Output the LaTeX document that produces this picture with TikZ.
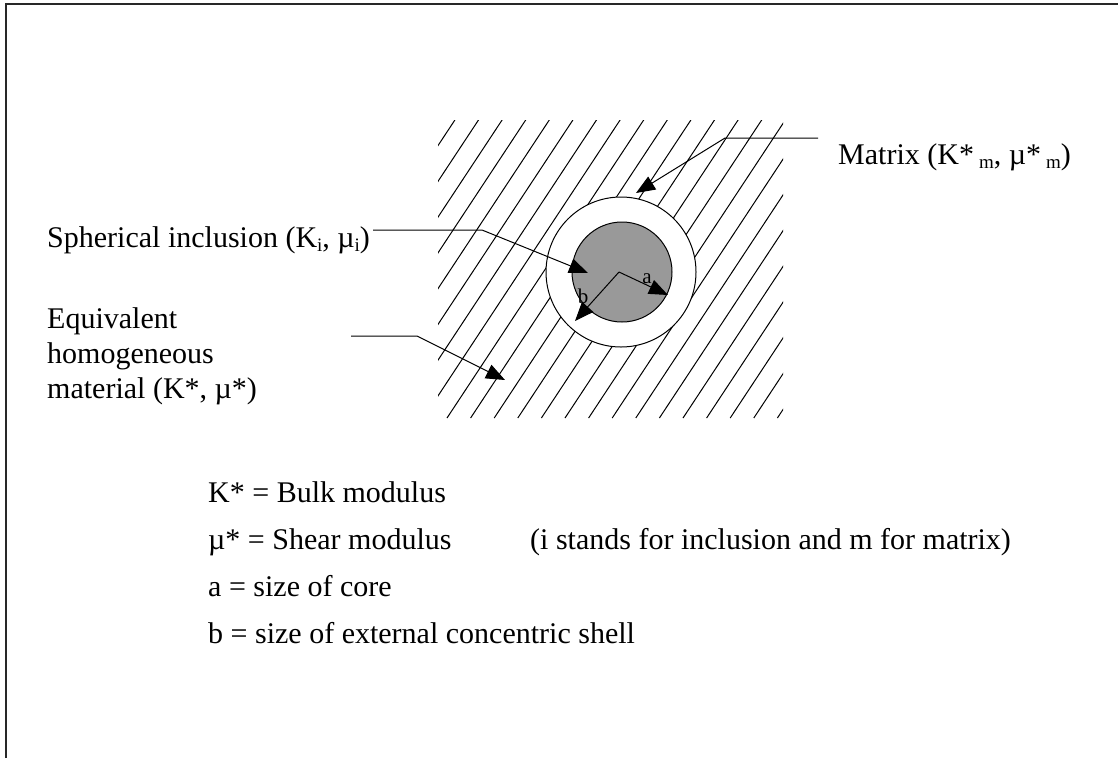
\documentclass[tikz,border=0pt]{standalone}
\usepackage{fontspec}
\setmainfont{Liberation Serif}
\usetikzlibrary{arrows.meta}
\definecolor{coregray}{RGB}{153,153,153}
\definecolor{framegray}{RGB}{40,40,40}
\tikzset{
  lbl/.style={anchor=base west, inner sep=0pt, font=\fontsize{30}{35}\selectfont},
  small/.style={anchor=base, inner sep=0pt, font=\fontsize{21}{21}\selectfont},
  arr/.style={line width=1pt, -{Triangle[length=19pt,width=15pt]}},
  conn/.style={line width=1pt},
  hatchline/.style={line width=1pt},
  ring/.style={line width=1pt, draw=black},
}
\newcommand\lowsub[1]{\raisebox{-0.14em}{\fontsize{19}{19}\selectfont #1}}
\begin{document}
\begin{tikzpicture}[x=1pt,y=-1pt]
\useasboundingbox (0,0) rectangle (1118,758);
% frame (top and left edges visible)
\draw[framegray, line width=1.3pt] (6,758) -- (6,4) -- (1118,4);

% hatched region
\begin{scope}
  \clip (438,120) rectangle (783,418);
  \foreach \k in {-10,...,16} {
    \draw[hatchline] ({447+23.6*\k},418) -- ({447+23.6*\k+0.66*320},98);
  }
\end{scope}

% shell and core
\node[ring, circle, fill=white, minimum size=150pt, inner sep=0pt] (shell) at (621,272) {};
\node[ring, circle, fill=coregray, minimum size=100pt, inner sep=0pt] (core) at (622,272) {};

% radii
\coordinate (ctr) at (619,272);
\coordinate (aT) at (668,295);
\coordinate (bT) at (575,321);
\draw[arr] (ctr) -- (aT);
\draw[arr] (ctr) -- (bT);
\node[small] (alab) at (647,283) {a};
\node[small] (blab) at (583,303) {b};

% labels
\node[lbl] (matrix) at (838,164) {Matrix (K*\,\lowsub{m}, \textmu*\,\lowsub{m})};
\node[lbl] (sph) at (47,247) {Spherical inclusion (K\lowsub{i}, \textmu\lowsub{i})};
\node[lbl] (eq1) at (47,328) {Equivalent};
\node[lbl] (eq2) at (47,363) {homogeneous};
\node[lbl] (eq3) at (47,398) {material (K*, \textmu*)};

% connectors
\coordinate (mA) at (818,138);
\coordinate (mB) at (725,138);
\coordinate (mT) at (636,193);
\draw[arr] (mA) -- (mB) -- (mT);

\coordinate (sA) at (373,230);
\coordinate (sB) at (482,230);
\coordinate (sT) at (588,273);
\draw[arr] (sA) -- (sB) -- (sT);

\coordinate (hA) at (351,336);
\coordinate (hB) at (417,336);
\coordinate (hT) at (505,380);
\draw[arr] (hA) -- (hB) -- (hT);

% legend
\node[lbl] (k) at (208,502) {K* = Bulk modulus};
\node[lbl] (mu) at (208,549) {\textmu* = Shear modulus};
\node[lbl] (note) at (530,549) {(i stands for inclusion and m for matrix)};
\node[lbl] (acore) at (208,596) {a = size of core};
\node[lbl] (bshell) at (208,643) {b = size of external concentric shell};
\end{tikzpicture}
\end{document}
